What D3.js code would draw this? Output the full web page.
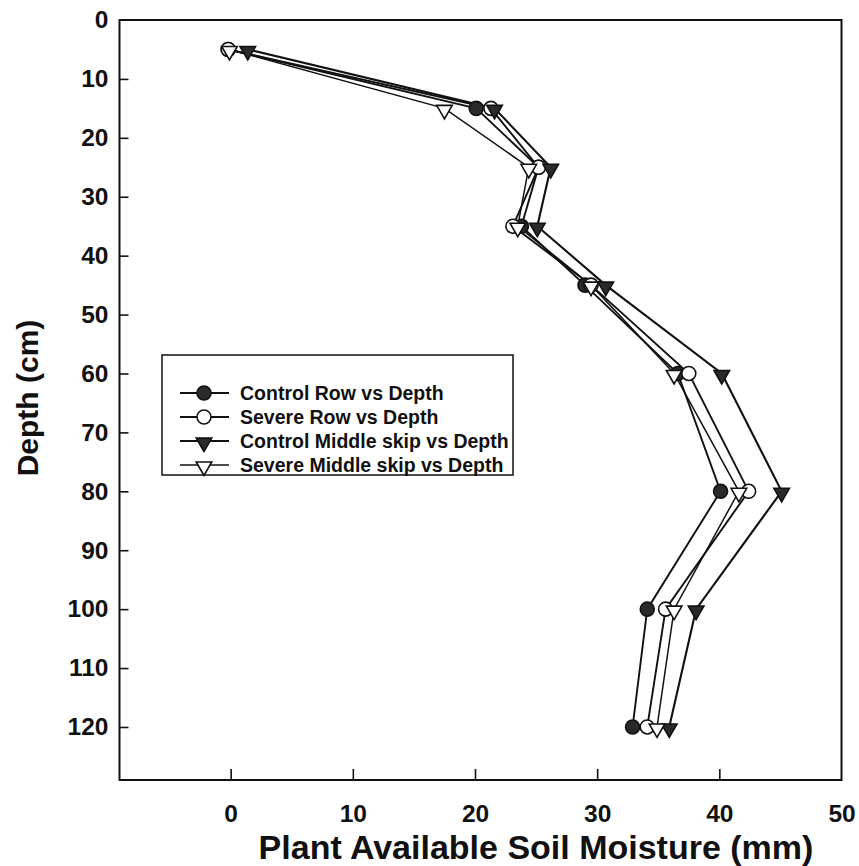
<!DOCTYPE html>
<html>
<head>
<meta charset="utf-8">
<script src="https://cdn.jsdelivr.net/npm/d3@7"></script>
<style>
  body { margin: 0; background: #fff; }
  text { font-family: "Liberation Sans", Arial, sans-serif; fill: #111; }
</style>
</head>
<body>
<div id="chart"></div>
<script>
const width = 859;
const height = 866;

const depths = [5, 15, 25, 35, 45, 60, 80, 100, 120];
const controlRow = [-0.2, 20.1, 25.2, 23.8, 29.0, 36.6, 40.1, 34.1, 32.9];
const severeRow = [-0.2, 21.3, 25.2, 23.1, 29.5, 37.5, 42.4, 35.6, 34.1];
const controlMiddle = [1.4, 21.6, 26.2, 25.1, 30.7, 40.2, 45.1, 38.1, 35.9];
const severeMiddle = [-0.1, 17.5, 24.4, 23.5, 29.5, 36.3, 41.6, 36.3, 34.9];

const seriesNames = [
    "Control Row vs Depth",
    "Severe Row vs Depth",
    "Control Middle skip vs Depth",
    "Severe Middle skip vs Depth"
];
const xTicks = [0, 10, 20, 30, 40, 50];
const yTicks = [0, 10, 20, 30, 40, 50, 60, 70, 80, 90, 100, 110, 120];

const plot = { left: 119.5, right: 841.5, top: 20, bottom: 780 };

const x = d3.scaleLinear().domain([-9.1, 50]).range([plot.left, plot.right]);
const y = d3.scaleLinear().domain([0, 129]).range([plot.top, plot.bottom]);

const series = [
    { name: seriesNames[0], values: controlRow, shape: "circle", fill: "#2a2a2a", width: 1.9 },
    { name: seriesNames[1], values: severeRow, shape: "circle", fill: "#fff", width: 1.9 },
    { name: seriesNames[2], values: controlMiddle, shape: "tri", fill: "#2a2a2a", width: 2.1 },
    { name: seriesNames[3], values: severeMiddle, shape: "tri", fill: "#fff", width: 1.5 }
];

const svg = d3.select("#chart").append("svg")
    .attr("width", width)
    .attr("height", height);

// axes
const yAxis = svg.append("g")
    .attr("transform", `translate(${plot.left},0)`)
    .call(d3.axisLeft(y).tickValues(yTicks).tickSizeInner(-9).tickSizeOuter(0).tickPadding(11));
const xAxis = svg.append("g")
    .attr("transform", `translate(0,${plot.bottom})`)
    .call(d3.axisBottom(x).tickValues(xTicks).tickSizeInner(-11).tickSizeOuter(0).tickPadding(25));

[xAxis, yAxis].forEach(function (g) {
    g.select(".domain").remove();
    g.selectAll(".tick line").attr("stroke", "#111").attr("stroke-width", 1.6);
    g.selectAll(".tick text").attr("font-size", 24.5).attr("font-weight", "bold");
});
xAxis.selectAll(".tick").filter((d) => d === 50).select("line").remove();
yAxis.selectAll(".tick").filter((d) => d === 0).select("line").remove();

svg.append("rect")
    .attr("x", plot.left)
    .attr("y", plot.top)
    .attr("width", plot.right - plot.left)
    .attr("height", plot.bottom - plot.top)
    .attr("fill", "none")
    .attr("stroke", "#111")
    .attr("stroke-width", 2);

// titles
svg.append("text")
    .attr("x", 536)
    .attr("y", 859)
    .attr("text-anchor", "middle")
    .attr("font-size", 34)
    .attr("font-weight", "bold")
    .text("Plant Available Soil Moisture (mm)");

svg.append("text")
    .attr("transform", "translate(38,398) rotate(-90)")
    .attr("text-anchor", "middle")
    .attr("font-size", 30)
    .attr("font-weight", "bold")
    .text("Depth (cm)");

function drawMarker(g, s, cx, cy) {
    if (s.shape === "circle") {
        g.append("circle")
            .attr("cx", cx).attr("cy", cy).attr("r", 7)
            .attr("fill", s.fill).attr("stroke", "#111").attr("stroke-width", 1.6);
    } else {
        const sym = d3.symbol().type(d3.symbolTriangle).size(105);
        g.append("path")
            .attr("d", sym())
            .attr("transform", `translate(${cx},${cy + 1.5}) rotate(180)`)
            .attr("fill", s.fill).attr("stroke", "#111").attr("stroke-width", 1.6);
    }
}

const line = d3.line()
    .x((d) => x(d[0]))
    .y((d) => y(d[1]));

series.forEach(function (s) {
    const pts = s.values.map((v, i) => [v, depths[i]]);
    svg.append("path")
        .datum(pts)
        .attr("d", line)
        .attr("fill", "none")
        .attr("stroke", "#111")
        .attr("stroke-width", s.width);
});

series.forEach(function (s) {
    const g = svg.append("g");
    s.values.forEach((v, i) => drawMarker(g, s, x(v), y(depths[i])));
});

// legend
const legend = svg.append("g");
legend.append("rect")
    .attr("x", 162)
    .attr("y", 355)
    .attr("width", 351)
    .attr("height", 120)
    .attr("fill", "#fff")
    .attr("stroke", "#111")
    .attr("stroke-width", 1.5);

series.forEach(function (s, i) {
    const ly = 393 + i * 24;
    legend.append("line")
        .attr("x1", 180).attr("x2", 229)
        .attr("y1", ly).attr("y2", ly)
        .attr("stroke", "#111").attr("stroke-width", s.width);
    drawMarker(legend, s, 204, ly);
    legend.append("text")
        .attr("x", 240)
        .attr("y", ly + 6.5)
        .attr("font-size", 19.5)
        .attr("font-weight", "bold")
        .text(s.name);
});
</script>
</body>
</html>
